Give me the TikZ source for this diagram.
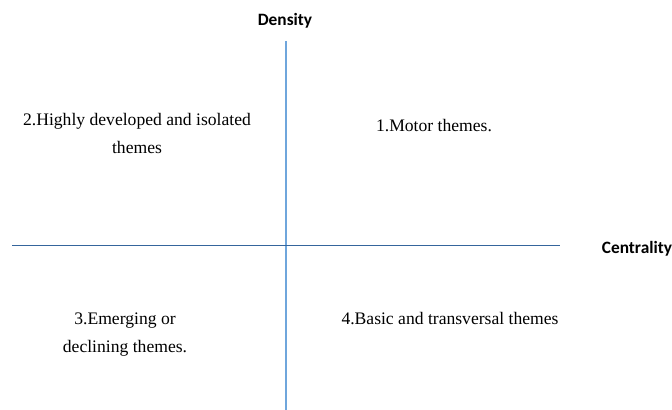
\documentclass[tikz,border=0pt]{standalone}
\usepackage{fontspec}
\setmainfont{Liberation Serif}
\newfontfamily\axisfont{Carlito}
\definecolor{vaxis}{HTML}{6FA6DC}
\definecolor{haxis}{HTML}{35659C}
\tikzset{
  theme/.style={align=center, font=\fontsize{13.2}{21}\selectfont},
  axislabel/.style={font=\axisfont\bfseries\fontsize{13}{15}\selectfont}
}
\begin{document}
\begin{tikzpicture}[x=0.75pt, y=-0.75pt]
        \useasboundingbox (0,0) rectangle (672,410);
        %\draw [help lines, step=50] (0,0) grid (672,410);
        \draw [vaxis, line width=1.3pt] (286,41) -- (286,410);
        \draw [haxis, line width=0.6pt] (12,245) -- (560,245);
        \node [axislabel] (density) at (285,21) {Density};
        \node [axislabel] (centrality) at (637,249) {Centrality};
        \node [theme] (q2) at (137,133.5) {2.Highly developed and isolated\\themes};
        \node [theme] (q1) at (434,126) {1.Motor themes.};
        \node [theme] (q3) at (125,334.5) {3.Emerging or\\declining themes.};
        \node [theme] (q4) at (450,319) {4.Basic and transversal themes};
    \end{tikzpicture}
\end{document}
